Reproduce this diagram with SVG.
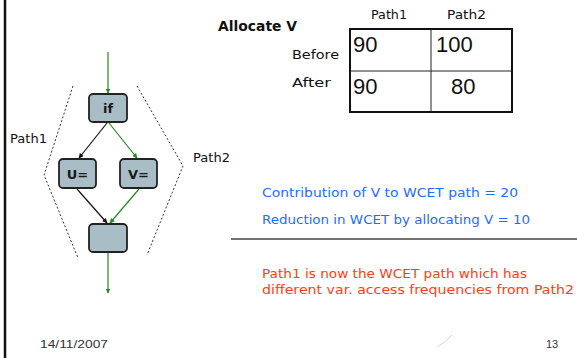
<svg xmlns="http://www.w3.org/2000/svg" width="577" height="358" viewBox="0 0 577 358">
  <style>
    .hand { font-family: "DejaVu Sans", "Liberation Sans", sans-serif; fill: #111; }
    .node rect { fill: #a8bdc5; stroke: #222; stroke-width: 1.8; }
    .node text { font-family: "DejaVu Sans", "Liberation Sans", sans-serif; font-weight: bold; font-size: 13px; fill: #1a1a1a; text-anchor: middle; }
    .num { font-family: "Liberation Sans", "DejaVu Sans", sans-serif; font-size: 22px; fill: #111; }
    .small { font-family: "Liberation Sans", Arial, sans-serif; font-size: 11px; fill: #333; }
    .blue { font-family: "DejaVu Sans", "Liberation Sans", sans-serif; font-size: 13px; fill: #1f6bff; }
    .red { font-family: "DejaVu Sans", "Liberation Sans", sans-serif; font-size: 13px; fill: #ff3d14; }
    .g { stroke: #1f8a1f; stroke-width: 1.2; fill: none; marker-end: url(#ah-green); }
    .k { stroke: #111; stroke-width: 1.2; fill: none; marker-end: url(#ah-black); }
    .bracket { stroke: #333; stroke-width: 1; stroke-dasharray: 2 2; fill: none; }
  </style>
  <defs>
    <marker id="ah-green" viewBox="0 0 10 10" refX="9" refY="5" markerWidth="5" markerHeight="5" markerUnits="userSpaceOnUse" orient="auto">
      <path d="M0,0 L10,5 L0,10 z" fill="#1f8a1f"/>
    </marker>
    <marker id="ah-black" viewBox="0 0 10 10" refX="9" refY="5" markerWidth="5" markerHeight="5" markerUnits="userSpaceOnUse" orient="auto">
      <path d="M0,0 L10,5 L0,10 z" fill="#111"/>
    </marker>
  </defs>

  <rect width="577" height="358" fill="#fff"/>
  <!-- left slide edge -->
  <line x1="5" y1="0" x2="5" y2="358" stroke="#111" stroke-width="2.5"/>

  <!-- path brackets -->
  <polyline class="bracket" points="73,86 44,175 78,258"/>
  <polyline class="bracket" points="137,86 183,166 147,255"/>
  <text class="hand" x="10" y="143" font-size="13" textLength="37" lengthAdjust="spacingAndGlyphs">Path1</text>
  <text class="hand" x="193" y="162" font-size="13" textLength="37" lengthAdjust="spacingAndGlyphs">Path2</text>

  <!-- connectors -->
  <g id="connectors">
    <line class="g" x1="108" y1="52" x2="108" y2="93"/>
    <line class="k" x1="107" y1="123" x2="79" y2="158"/>
    <line class="g" x1="109" y1="123" x2="137" y2="158"/>
    <line class="k" x1="77" y1="189" x2="107" y2="223"/>
    <line class="g" x1="139" y1="189" x2="110" y2="223"/>
    <line class="g" x1="108" y1="252" x2="108" y2="293"/>
  </g>

  <!-- nodes -->
  <g id="node-if" class="node">
    <rect x="89" y="94" width="38" height="28" rx="4"/>
    <text x="108" y="113">if</text>
  </g>
  <g id="node-u" class="node">
    <rect x="59" y="159" width="37" height="29" rx="4"/>
    <text x="77.5" y="178.5">U=</text>
  </g>
  <g id="node-v" class="node">
    <rect x="120" y="159" width="37" height="29" rx="4"/>
    <text x="138.5" y="178.5">V=</text>
  </g>
  <g id="node-join" class="node">
    <rect x="89" y="224" width="38" height="28" rx="4"/>
  </g>

  <!-- table -->
  <text class="hand" x="218" y="31" font-size="14" font-weight="bold" textLength="79" lengthAdjust="spacingAndGlyphs">Allocate V</text>
  <text class="hand" x="371" y="19" font-size="12" textLength="36" lengthAdjust="spacingAndGlyphs">Path1</text>
  <text class="hand" x="447" y="19" font-size="12" textLength="39" lengthAdjust="spacingAndGlyphs">Path2</text>
  <text class="hand" x="292" y="59" font-size="12" textLength="47" lengthAdjust="spacingAndGlyphs">Before</text>
  <text class="hand" x="292" y="87" font-size="12" textLength="39" lengthAdjust="spacingAndGlyphs">After</text>
  <g id="table">
    <line x1="431" y1="29" x2="431" y2="112" stroke="#222" stroke-width="1"/>
    <line x1="350" y1="71" x2="512" y2="71" stroke="#222" stroke-width="1"/>
    <rect x="350" y="29" width="162" height="83" fill="none" stroke="#111" stroke-width="2"/>
    <text class="num" x="353" y="52">90</text>
    <text class="num" x="436" y="52">100</text>
    <text class="num" x="353" y="94">90</text>
    <text class="num" x="451" y="94">80</text>
  </g>

  <!-- notes -->
  <text class="blue" x="262" y="197" textLength="256" lengthAdjust="spacingAndGlyphs">Contribution of V to WCET path = 20</text>
  <text class="blue" x="262" y="224" textLength="268" lengthAdjust="spacingAndGlyphs">Reduction in WCET by allocating V = 10</text>
  <line x1="231" y1="239" x2="577" y2="239" stroke="#444" stroke-width="1.5"/>
  <text class="red" x="262" y="278" textLength="265" lengthAdjust="spacingAndGlyphs">Path1 is now the WCET path which has</text>
  <text class="red" x="262" y="294" textLength="312" lengthAdjust="spacingAndGlyphs">different var. access frequencies from Path2</text>

  <!-- footer -->
  <path d="M452,335 Q446,342 437,347" stroke="#d4d4d4" stroke-width="1" fill="none"/>
  <text class="small" x="40" y="348" textLength="68" lengthAdjust="spacingAndGlyphs">14/11/2007</text>
  <text class="small" x="546" y="348">13</text>
</svg>
